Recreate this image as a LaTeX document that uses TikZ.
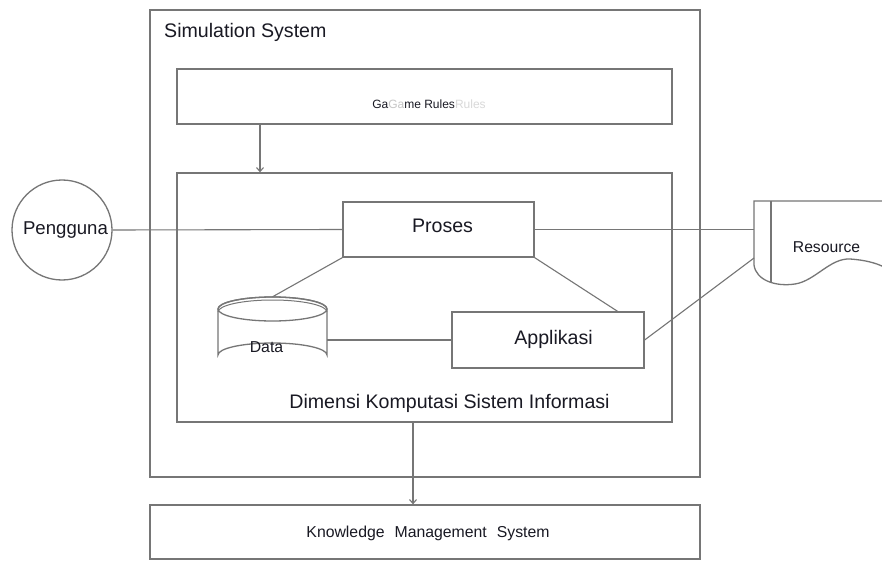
\documentclass[tikz,border=0pt]{standalone}
\usepackage{fontspec}
\setmainfont{Liberation Sans}
\usetikzlibrary{arrows.meta,calc}
\definecolor{ln}{RGB}{118,118,118}
\definecolor{tx}{RGB}{25,25,35}
\tikzset{
  box/.style={draw=ln,line width=1.3pt,rectangle,inner sep=0pt,fill=white},
  conn/.style={draw=ln,line width=1.1pt},
  arr/.style={conn,-{Straight Barb[length=4pt,width=7pt]}},
  big/.style={font=\fontsize{19.6}{23}\selectfont,text=tx},
  small/.style={font=\fontsize{15.8}{19}\selectfont,text=tx},
  ghost/.style={inner sep=0pt,draw=none}
}
\begin{document}
\begin{tikzpicture}[x=1pt,y=-1pt]
\useasboundingbox[fill=white] (0,0) rectangle (882,561);
% outer simulation system
\node[box,minimum width=550,minimum height=467] (sim) at (425,243.5) {};
\node[big,anchor=west,inner sep=0pt] (simt) at (164,32) {Simulation System};
% game rules
\node[box,minimum width=495,minimum height=55] (rules) at (424.5,96.5) {};
\node[inner sep=0pt,font=\fontsize{12}{14}\selectfont,text=tx] (rulest) at (429,104)
  {Ga{\color{gray!45}Ga}me Rules{\color{gray!30}Rules}};
% inner box
\node[box,minimum width=495,minimum height=249] (inner) at (424.5,297.5) {};
\node[big,inner sep=0pt] (innert) at (449.5,403) {Dimensi Komputasi Sistem Informasi};
\coordinate (ax) at (260,0);
\draw[arr] (rules.south -| ax) -- (inner.north -| ax);
% knowledge management
\node[box,minimum width=550,minimum height=54] (kms) at (425,532) {};
\node[small,inner sep=0pt] (kmst) at (428,533) {Knowledge\hspace{10pt}Management\hspace{10pt}System};
\coordinate (bx) at (413,0);
\draw[arr] (inner.south -| bx) -- (kms.north -| bx);
% pengguna
\node[draw=ln,line width=1.3pt,circle,minimum size=100,inner sep=0pt,fill=white] (peng) at (62,230) {};
\node[font=\fontsize{18.6}{22}\selectfont,text=tx,inner sep=0pt] (pengt) at (65.5,230) {Pengguna};
% proses & applikasi
\node[box,minimum width=191,minimum height=55] (proses) at (438.5,229.5) {};
\node[big,inner sep=0pt] (prosest) at (442.5,226) {Proses};
\node[box,minimum width=192,minimum height=56] (appl) at (548,340) {};
\node[big,inner sep=0pt] (applt) at (553.5,339) {Applikasi};
% data cylinder
\node[ghost,minimum width=109,minimum height=70] (data) at (272.5,332) {};
\path[fill=white,draw=ln,line width=1.3pt]
  (218,309) -- (218,355) arc[start angle=180,end angle=360,x radius=54.5,y radius=12]
  -- (327,309) arc[start angle=0,end angle=-180,x radius=54.5,y radius=12] -- cycle;
\draw[ln,line width=1.3pt] (272.5,309) ellipse[x radius=54.5,y radius=12];
\draw[ln,line width=1pt] (218,312) arc[start angle=180,end angle=360,x radius=54.5,y radius=12];
\node[small,inner sep=0pt] (datat) at (266.5,347) {Data};
% resource
\node[ghost,minimum width=128,minimum height=84] (res) at (818,243) {};
\path[fill=white,draw=ln,line width=1.3pt]
  (884,201) -- (754,201) -- (754,265)
  .. controls (756,280) and (775,287) .. (795,284)
  .. controls (815,281) and (830,258) .. (850,259)
  .. controls (865,260) and (876,263) .. (884,267);
\draw[ln,line width=1.2pt] (771,201) -- (771,283);
\node[font=\fontsize{15.7}{19}\selectfont,text=tx,inner sep=0pt] (rest) at (826.5,247) {Resource};
\coordinate (rlo) at (754,258);
% connectors
\draw[conn] (peng.east) -- (proses.west);
\draw[conn] (proses.east) -- (proses.east -| res.west);
\draw[conn] (proses.south west) -- (data.north);
\draw[conn] (proses.south east) -- ($(appl.north west)!0.86!(appl.north east)$);
\draw[conn] (appl.west) -- (appl.west -| data.east);
\draw[conn] (appl.east) -- (rlo);
\end{tikzpicture}
\end{document}
